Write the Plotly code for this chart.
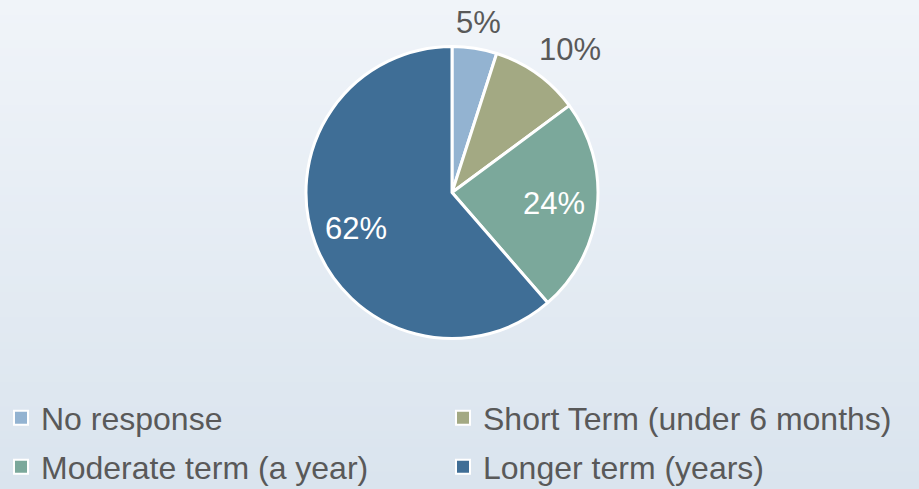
import math
import plotly.graph_objects as go

labels = ["No response", "Short Term (under 6 months)", "Moderate term (a year)", "Longer term (years)"]
values = [5, 10, 24, 62]
text_labels = ["5%", "10%", "24%", "62%"]
colors = ["#93B3D1", "#A3A983", "#7BA89B", "#3F6E96"]
legend_ids = ["legend", "legend2", "legend3", "legend4"]
legend_x_px = [1, 443, 1, 443]
legend_y_px = [418, 418, 467, 467]
label_radius = [1.18, 1.27, 0.70, 0.70]
label_angle_nudge = [0, 4, 0, 0]
text_colors = ["#595959", "#595959", "#FFFFFF", "#FFFFFF"]

W, H = 919, 489
CX, CY, R = 452, 192.5, 146
FONT = "Liberation Sans, Arial"

fig = go.Figure(go.Pie(
    labels=labels,
    values=values,
    textinfo="none",
    sort=False,
    direction="clockwise",
    rotation=0,
    showlegend=False,
    marker=dict(colors=colors, line=dict(color="#FFFFFF", width=3)),
    domain=dict(x=[(CX - R) / W, (CX + R) / W], y=[1 - (CY + R) / H, 1 - (CY - R) / H]),
    hoverinfo="label+percent",
))

# legend entries (square swatches) for each category
for lab, col, lg in zip(labels, colors, legend_ids):
    fig.add_trace(go.Scatter(
        x=[None], y=[None], mode="markers", name=lab, legend=lg,
        marker=dict(symbol="square", size=14, color=col, line=dict(color="#FFFFFF", width=2)),
        hoverinfo="skip",
    ))

# data labels placed from the slices' mid-angles
total = sum(values)
cum = 0
annotations = []
for v, t, f, nd, c in zip(values, text_labels, label_radius, label_angle_nudge, text_colors):
    mid = math.radians((cum + v / 2) / total * 360 + nd)
    cum += v
    px = CX + f * R * math.sin(mid)
    py = CY - f * R * math.cos(mid)
    annotations.append(dict(x=px / W, y=1 - py / H, xref="paper", yref="paper",
                            text=t, showarrow=False, xanchor="center", yanchor="middle",
                            font=dict(family=FONT, size=31, color=c)))

# vertical gradient background made of thin strips
n = 60
top = (240, 244, 249)
bot = (218, 228, 238)
shapes = []
for i in range(n):
    t = i / (n - 1)
    c = tuple(round(top[k] + (bot[k] - top[k]) * t) for k in range(3))
    shapes.append(dict(type="rect", xref="paper", yref="paper",
                       x0=0, x1=1, y0=1 - (i + 1) / n, y1=1 - i / n + 0.002,
                       fillcolor="rgb(%d,%d,%d)" % c, line=dict(width=0), layer="below"))

legend_common = dict(
    orientation="h", xanchor="left", yanchor="middle",
    font=dict(family=FONT, size=32, color="#595959"),
    bgcolor="rgba(0,0,0,0)", itemclick=False, itemdoubleclick=False,
)
legends = {lg: dict(x=lx / W, y=1 - ly / H, **legend_common)
           for lg, lx, ly in zip(legend_ids, legend_x_px, legend_y_px)}

fig.update_layout(
    width=W, height=H,
    margin=dict(l=0, r=0, t=0, b=0, autoexpand=False),
    paper_bgcolor="#E6ECF3",
    plot_bgcolor="rgba(0,0,0,0)",
    xaxis=dict(visible=False),
    yaxis=dict(visible=False),
    shapes=shapes,
    annotations=annotations,
    showlegend=True,
    font=dict(family=FONT, color="#595959"),
    **legends,
)

fig.write_html("out.html", config={"displayModeBar": False},
               post_script="document.body.style.margin='0';")
